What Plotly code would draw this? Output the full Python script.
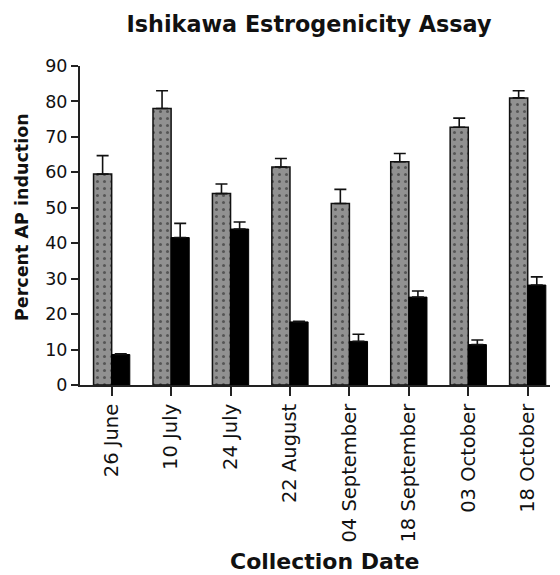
import plotly.graph_objects as go

dates = ["26 June", "10 July", "24 July", "22 August", "04 September",
         "18 September", "03 October", "18 October"]
grey_vals = [59.5, 78.0, 54.0, 61.5, 51.2, 63.0, 72.7, 81.0]
grey_err = [5.2, 5.0, 2.7, 2.4, 4.0, 2.3, 2.6, 2.0]
black_vals = [8.6, 41.6, 44.0, 17.8, 12.3, 24.8, 11.4, 28.2]
black_err = [0.2, 4.0, 2.0, 0.2, 2.0, 1.7, 1.3, 2.3]

FONT = "DejaVu Sans, Arial, sans-serif"

fig = go.Figure()
fig.add_trace(go.Bar(
    x=dates, y=grey_vals,
    marker=dict(color="#919191",
                line=dict(color="#111111", width=1.5),
                pattern=dict(shape=".", fgcolor="#1a1a1a", bgcolor="#919191",
                             size=7, solidity=0.15)),
    error_y=dict(type="data", symmetric=False, array=grey_err,
                 arrayminus=[0]*len(grey_err), color="#111111",
                 thickness=1.6, width=6),
    showlegend=False,
))
fig.add_trace(go.Bar(
    x=dates, y=black_vals,
    marker=dict(color="#000000", line=dict(color="#000000", width=1)),
    error_y=dict(type="data", symmetric=False, array=black_err,
                 arrayminus=[0]*len(black_err), color="#111111",
                 thickness=1.6, width=6),
    showlegend=False,
))

fig.update_layout(
    width=560, height=575,
    barmode="group", bargap=0.39, bargroupgap=0,
    plot_bgcolor="white", paper_bgcolor="white",
    margin=dict(l=80, r=10, t=66, b=190, autoexpand=False),
    font=dict(family=FONT, color="#111111"),
    title=dict(text="<b>Ishikawa Estrogenicity Assay</b>",
               xref="container", x=309/560, xanchor="center",
               y=1 - 24/575, yanchor="middle",
               font=dict(size=22.3, family=FONT)),
    xaxis=dict(
        range=[-0.533, 7.375], automargin=False,
        showline=True, linecolor="#222222", linewidth=2,
        ticks="outside", ticklen=9, tickwidth=2, tickcolor="#222222",
        tickangle=-90, tickfont=dict(size=19.5, family=FONT),
        showgrid=False, zeroline=False,
    ),
    yaxis=dict(
        range=[0, 90], tickvals=[0,10,20,30,40,50,60,70,80,90], automargin=False,
        showline=True, linecolor="#222222", linewidth=2,
        ticks="outside", ticklen=7, tickwidth=2, tickcolor="#222222",
        tickfont=dict(size=17.5, family=FONT),
        showgrid=False, zeroline=False,
    ),
    annotations=[
        dict(text="<b>Collection Date</b>", xref="paper", yref="paper",
             x=(324-80)/470, y=(385-561)/319, xanchor="center", yanchor="middle",
             showarrow=False, font=dict(size=22, family=FONT)),
        dict(text="<b>Percent AP induction</b>", xref="paper", yref="paper",
             x=(22-80)/470, y=(385-217)/319, xanchor="center", yanchor="middle",
             textangle=-90, showarrow=False, font=dict(size=17.5, family=FONT)),
    ],
)

fig.write_html("out.html", config={"displayModeBar": False},
               post_script="document.body.style.margin='0';")
